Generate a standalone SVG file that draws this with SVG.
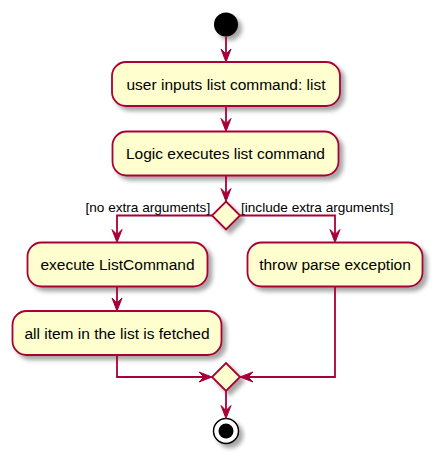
<svg xmlns="http://www.w3.org/2000/svg" width="435" height="457" viewBox="0 0 435 457">
<defs>
<filter id="sh" x="-20%" y="-20%" width="150%" height="160%">
<feGaussianBlur in="SourceAlpha" stdDeviation="2"/>
<feOffset dx="4" dy="4" result="b"/>
<feColorMatrix in="b" type="matrix" values="0 0 0 0 0  0 0 0 0 0  0 0 0 0 0  0 0 0 0.35 0" result="c"/>
<feMerge><feMergeNode in="c"/><feMergeNode in="SourceGraphic"/></feMerge>
</filter>
</defs>
<style>
.act{fill:#FEFECE;stroke:#A80036;stroke-width:1.8;filter:url(#sh)}
.t{font-family:"Liberation Sans",Arial,sans-serif;font-size:15.5px;fill:#000;text-anchor:middle}
.lb{font-family:"Liberation Sans",Arial,sans-serif;font-size:13.6px;fill:#000}
.ln{fill:none;stroke:#A80036;stroke-width:1.8}
.hd{fill:#A80036;stroke:#A80036;stroke-width:1}
</style>
<g id="start"><circle cx="226" cy="24.5" r="12" fill="#000" filter="url(#sh)"/></g>
<g id="n1"><rect class="act" x="112" y="62" width="228" height="44" rx="14"/><text class="t" x="226" y="90">user inputs list command: list</text></g>
<g id="n2"><rect class="act" x="112.5" y="131.5" width="226" height="44" rx="14"/><text class="t" x="225.5" y="159.3">Logic executes list command</text></g>
<g id="d1"><polygon class="act" points="226,201.5 240,215.5 226,229.5 212,215.5"/></g>
<g id="n3"><rect class="act" x="27.5" y="242.5" width="180" height="44" rx="14"/><text class="t" x="117.5" y="270.3">execute ListCommand</text></g>
<g id="n4"><rect class="act" x="247.5" y="242.5" width="175" height="44" rx="14"/><text class="t" x="335" y="270.3">throw parse exception</text></g>
<g id="n5"><rect class="act" x="12.5" y="311" width="209" height="44" rx="14"/><text class="t" x="117" y="338.8">all item in the list is fetched</text></g>
<g id="d2"><polygon class="act" points="226,363 240,377 226,391 212,377"/></g>
<g id="end"><circle cx="226" cy="431" r="12.5" fill="#fff" stroke="#000" stroke-width="1.5" filter="url(#sh)"/><circle cx="226" cy="431" r="7.5" fill="#000"/></g>
<g id="connectors">
<path class="ln" d="M226 36.5V60"/>
<polygon class="hd" points="221,49 226,62 231,49 226,54"/>
<path class="ln" d="M226 106V129"/>
<polygon class="hd" points="221,118.5 226,131.5 231,118.5 226,123.5"/>
<path class="ln" d="M226 175.5V199"/>
<polygon class="hd" points="221,188.5 226,201.5 231,188.5 226,193.5"/>
<path class="ln" d="M212 215.5H117V240"/>
<polygon class="hd" points="112,229.5 117,242.5 122,229.5 117,234.5"/>
<path class="ln" d="M240 215.5H335V240"/>
<polygon class="hd" points="330,229.5 335,242.5 340,229.5 335,234.5"/>
<text class="lb" x="85.5" y="211.5">[no extra arguments]</text>
<text class="lb" x="241" y="211.5">[include extra arguments]</text>
<path class="ln" d="M117 286.5V309"/>
<polygon class="hd" points="112,298 117,311 122,298 117,303"/>
<path class="ln" d="M117 355V377H210"/>
<polygon class="hd" points="199,372 212,377 199,382 204,377"/>
<path class="ln" d="M335 286.5V377H242"/>
<polygon class="hd" points="253,372 240,377 253,382 248,377"/>
<path class="ln" d="M226 391V416"/>
<polygon class="hd" points="221,405.5 226,418.5 231,405.5 226,410.5"/>
</g>
</svg>
